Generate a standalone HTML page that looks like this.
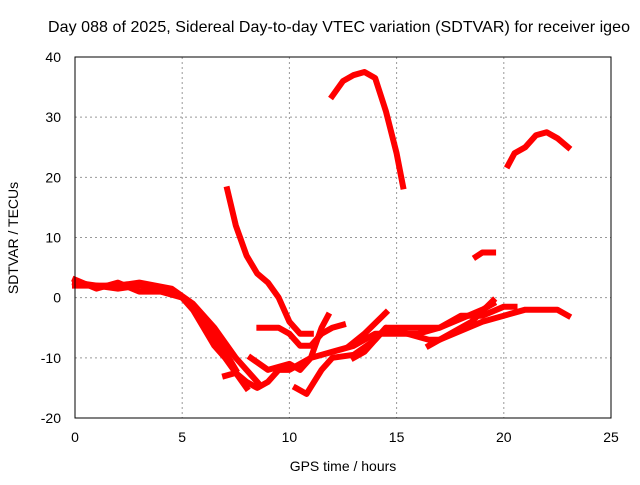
<!DOCTYPE html>
<html><head><meta charset="utf-8"><style>
body{margin:0;background:#fff}
svg text{font-family:"Liberation Sans",sans-serif;font-size:14px;fill:#000}
</style></head><body>
<svg id="c" width="640" height="480">
<text x="339" y="32" text-anchor="middle" style="font-size:16px" textLength="582">Day 088 of 2025, Sidereal Day-to-day VTEC variation (SDTVAR) for receiver igeo</text>
<text x="343" y="471" text-anchor="middle">GPS time / hours</text>
<text x="18" y="238" text-anchor="middle" transform="rotate(-90 18 238)">SDTVAR / TECUs</text>
<g id="grid"></g><g id="series"></g>
<rect x="75" y="57" width="536" height="361" fill="none" stroke="#000" stroke-width="1"/>
</svg>
<script>
const xTicks=[0,5,10,15,20,25];
const yTicks=[-20,-10,0,10,20,30,40];
const s1=[[0,2.5],[1,2],[2,1.5],[3,2],[4,1.5],[5,0],[5.5,-2],[6,-5],[6.5,-8],[7,-10],[7.5,-12.5],[8,-15]];
const s2=[[0,2],[2,2],[3,2.5],[4.5,1.5],[5.5,-1],[6.5,-5],[7.5,-10],[8.5,-14]];
const s3=[[0,3],[1,1.5],[2,2.5],[3,1],[4,1],[5,0],[6,-4],[7,-9],[7.5,-12]];
const s4=[[7.1,18],[7.5,12],[8,7],[8.5,4],[9,2.5],[9.5,0],[10,-4],[10.5,-6],[11,-6]];
const s5=[[8.6,-5],[9.5,-5],[10,-6],[10.5,-8],[11,-8],[11.5,-6],[12,-5],[12.5,-4.5]];
const s6=[[7,-13],[7.5,-12.5],[8,-14],[8.5,-15],[9,-14],[9.5,-12],[10,-12],[11,-10],[11.5,-5],[11.8,-3]];
const s7=[[8.2,-10],[9,-12],[10,-11],[10.5,-12],[11,-10],[12,-9],[13,-8],[14,-6],[15,-6],[16,-6],[17,-5],[18,-3.5],[19,-2],[19.5,-1]];
const s8=[[10.3,-15],[10.8,-16],[11.5,-12],[12,-10],[13,-9.5],[14,-7],[14.5,-5],[16,-5],[17,-5],[18,-3],[19,-3],[20,-1.5],[20.5,-1.5]];
const s9=[[13,-10],[13.5,-9],[14.5,-5],[15.5,-6],[16.5,-7],[17,-7],[18,-5.5],[19,-4],[20,-3],[21,-2],[22,-2],[22.5,-2],[23,-3]];
const s10=[[12.8,-8],[13.5,-6],[14.5,-2.5]];
const s11=[[16.5,-8],[17.5,-6],[18.5,-4],[19.5,-0.5]];
const s12=[[12,33.5],[12.5,36],[13,37],[13.5,37.5],[14,36.5],[14.5,31],[15,24],[15.3,18.5]];
const s13=[[20.2,22],[20.5,24],[21,25],[21.5,27],[22,27.5],[22.5,26.5],[23,25]];
const s14=[[18.7,6.8],[19,7.5],[19.5,7.5]];
const allSeries=[s1,s2,s3,s4,s5,s6,s7,s8,s9,s10,s11,s12,s13,s14];
const X=v=>75+v*(536/25), Y=v=>418-(v+20)*(361/60);
const NS="http://www.w3.org/2000/svg";
const g=document.getElementById('grid'), sg=document.getElementById('series'), svg=document.getElementById('c');
function el(t,a,p){const e=document.createElementNS(NS,t);for(const k in a)e.setAttribute(k,a[k]);p.appendChild(e);return e;}
xTicks.forEach(t=>{
  const x=X(t);
  if(t>0&&t<25){const l=el('line',{x1:x,x2:x,y1:57,y2:418,stroke:'#999','stroke-dasharray':'2,3'},g);
  
  }
  const tx=el('text',{x:x,y:442,'text-anchor':'middle'},svg);tx.textContent=t;
  
  
});
yTicks.forEach(t=>{
  const y=Y(t);
  if(t>-20&&t<40){const l=el('line',{x1:75,x2:611,y1:y,y2:y,stroke:'#999','stroke-dasharray':'2,3'},g);
  
  }
  const tx=el('text',{x:61,y:y+5,'text-anchor':'end'},svg);tx.textContent=t;
  
  
});
allSeries.forEach((s,i)=>{
  const p=el('polyline',{points:s.map(d=>X(d[0])+','+Y(d[1])).join(' '),fill:'none',stroke:'#f00','stroke-width':6,'stroke-linejoin':'round','stroke-linecap':'square'},sg);
  
  
});
</script>
</body></html>
